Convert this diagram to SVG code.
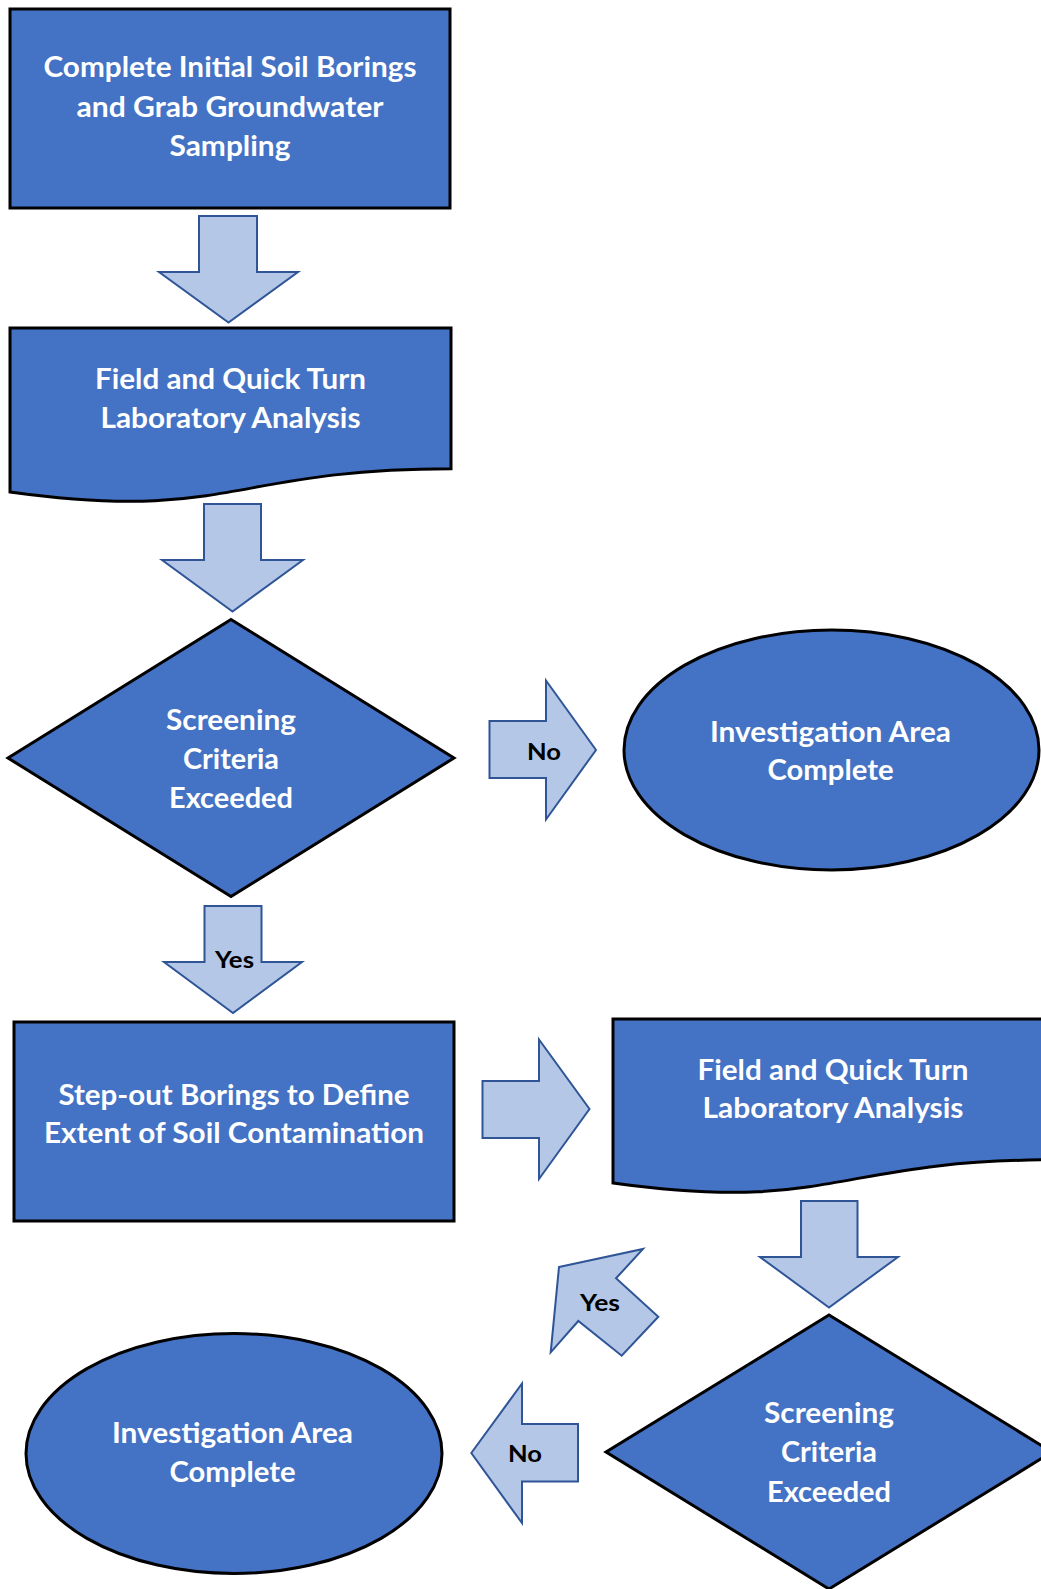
<svg xmlns="http://www.w3.org/2000/svg" width="1041" height="1589" viewBox="0 0 1041 1589">
<style>
.node{fill:#4472C4;stroke:#000;stroke-width:3}
.arr{fill:#B4C7E7;stroke:#2F5597;stroke-width:2;stroke-linejoin:miter}
.t{font-family:Lato,"Open Sans","Liberation Sans",sans-serif;font-weight:bold;font-size:28px;fill:#fff;text-anchor:middle}
.l{font-family:Lato,"Open Sans","Liberation Sans",sans-serif;font-weight:bold;font-size:23px;fill:#000;text-anchor:middle}
</style>
<rect width="1041" height="1589" fill="#fff"/>
<g id="connectors">
<polygon class="arr" points="199,216 257,216 257,272 298,272 228.5,322.5 159,272 199,272"/>
<polygon class="arr" points="204,504 261,504 261,560 303,560 232.5,611.5 162,560 204,560"/>
<polygon class="arr" points="489.5,721 546,721 546,680.5 596,750 546,819.5 546,778 489.5,778"/>
<text class="l" x="544" y="760" textLength="34" lengthAdjust="spacingAndGlyphs">No</text>
<polygon class="arr" points="204.5,906 261.5,906 261.5,962 302,962 233,1013 164,962 204.5,962"/>
<text class="l" x="234.5" y="968" textLength="39" lengthAdjust="spacingAndGlyphs">Yes</text>
<polygon class="arr" points="482.5,1081 539,1081 539,1039.5 589.5,1109 539,1179 539,1138 482.5,1138"/>
<polygon class="arr" points="801,1201 857.5,1201 857.5,1257 898,1257 829,1307.5 760,1257 801,1257"/>
<polygon class="arr" points="559,1267 643,1249 616,1278.3 658.3,1316.7 621.7,1355.7 578.3,1321 550.7,1352.3"/>
<text class="l" x="600" y="1311" textLength="40" lengthAdjust="spacingAndGlyphs">Yes</text>
<polygon class="arr" points="471.3,1453 522,1383.5 522,1424 578,1424 578,1481.5 522,1481.5 522,1523"/>
<text class="l" x="525" y="1462" textLength="34" lengthAdjust="spacingAndGlyphs">No</text>
</g>
<g id="n1">
<rect class="node" x="10" y="9" width="440" height="199"/>
<text class="t" x="230" y="77" textLength="373" lengthAdjust="spacingAndGlyphs">Complete Initial Soil Borings</text>
<text class="t" x="230" y="117" textLength="307" lengthAdjust="spacingAndGlyphs">and Grab Groundwater</text>
<text class="t" x="230" y="156" textLength="121" lengthAdjust="spacingAndGlyphs">Sampling</text>
</g>
<g id="n2">
<path class="node" d="M10,328 H451 V468.8 C230.5,468.8 230.5,522.4 10,492 Z"/>
<text class="t" x="230.5" y="389" textLength="271" lengthAdjust="spacingAndGlyphs">Field and Quick Turn</text>
<text class="t" x="230.5" y="428" textLength="260" lengthAdjust="spacingAndGlyphs">Laboratory Analysis</text>
</g>
<g id="n3">
<polygon class="node" points="231,619.5 454,758 231,896.5 8,758"/>
<text class="t" x="231" y="730" textLength="130" lengthAdjust="spacingAndGlyphs">Screening</text>
<text class="t" x="231" y="769" textLength="96" lengthAdjust="spacingAndGlyphs">Criteria</text>
<text class="t" x="231" y="808" textLength="124" lengthAdjust="spacingAndGlyphs">Exceeded</text>
</g>
<g id="n4">
<ellipse class="node" cx="831.5" cy="750" rx="207.5" ry="120"/>
<text class="t" x="830.5" y="741.5" textLength="241" lengthAdjust="spacingAndGlyphs">Investigation Area</text>
<text class="t" x="830.5" y="780" textLength="126" lengthAdjust="spacingAndGlyphs">Complete</text>
</g>
<g id="n5">
<rect class="node" x="14" y="1022" width="440" height="199"/>
<text class="t" x="234" y="1105" textLength="351" lengthAdjust="spacingAndGlyphs">Step-out Borings to Define</text>
<text class="t" x="234" y="1143" textLength="380" lengthAdjust="spacingAndGlyphs">Extent of Soil Contamination</text>
</g>
<g id="n6">
<path class="node" d="M613,1019 H1054 V1159.8 C833.5,1159.8 833.5,1213.5 613,1183 Z"/>
<text class="t" x="833" y="1080" textLength="271" lengthAdjust="spacingAndGlyphs">Field and Quick Turn</text>
<text class="t" x="833" y="1118" textLength="261" lengthAdjust="spacingAndGlyphs">Laboratory Analysis</text>
</g>
<g id="n7">
<polygon class="node" points="829,1315 1052,1452 829,1589 606,1452"/>
<text class="t" x="829" y="1423" textLength="130" lengthAdjust="spacingAndGlyphs">Screening</text>
<text class="t" x="829" y="1462" textLength="96" lengthAdjust="spacingAndGlyphs">Criteria</text>
<text class="t" x="829" y="1501.5" textLength="124" lengthAdjust="spacingAndGlyphs">Exceeded</text>
</g>
<g id="n8">
<ellipse class="node" cx="234" cy="1453.5" rx="208" ry="120"/>
<text class="t" x="232.5" y="1443" textLength="241" lengthAdjust="spacingAndGlyphs">Investigation Area</text>
<text class="t" x="232.5" y="1482" textLength="126" lengthAdjust="spacingAndGlyphs">Complete</text>
</g>
</svg>
